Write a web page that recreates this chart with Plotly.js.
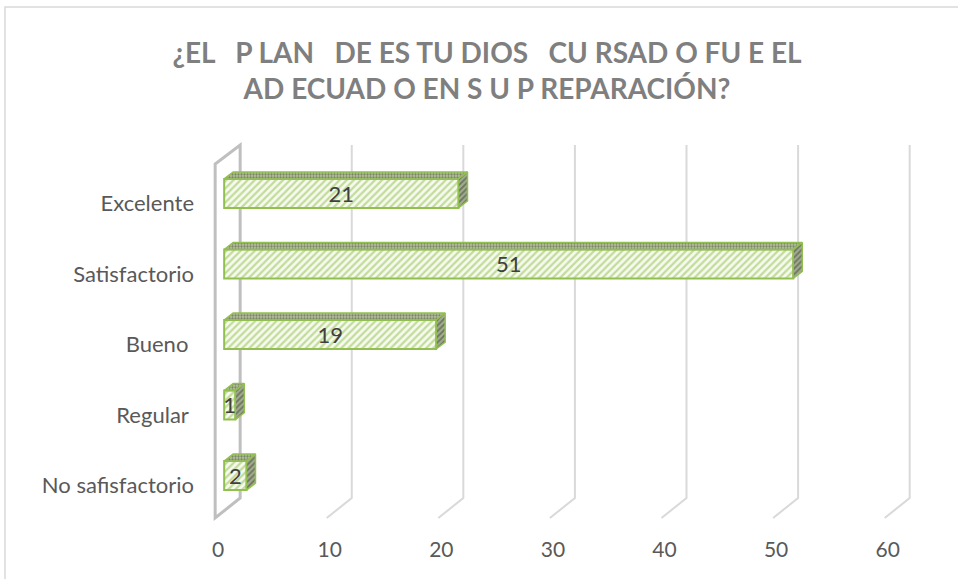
<!DOCTYPE html>
<html>
<head>
<meta charset="utf-8">
<script src="https://cdn.plot.ly/plotly-3.0.1.min.js"></script>
<style>
html,body{margin:0;padding:0;background:#fff;}
#chart{width:958px;height:579px;}
</style>
</head>
<body>
<div id="chart"></div>
<script>
// ---- data ----
const categories = ['Excelente', 'Satisfactorio', 'Bueno ', 'Regular ', 'No safisfactorio'];
const values = [21, 51, 19, 1, 2];
const tickValues = [0, 10, 20, 30, 40, 50, 60];
const tickLabels = ['0', '10', '20', '30', '40', '50', '60'];
const titleText = '¿EL   P LAN   DE ES TU DIOS   CU RSAD O FU E EL<br>AD ECUAD O EN S U P REPARACIÓN?';

// ---- layout geometry ----
const W = 958, H = 579;
const M = {l: 213, r: 42, t: 137, b: 54};
const xRange = [-1, 62];
const yRange = [-0.7, 4.8];
const plotW = W - M.l - M.r, plotH = H - M.t - M.b;
const pxX = plotW / (xRange[1] - xRange[0]);
const pxY = plotH / (yRange[1] - yRange[0]);
const dx = p => p / pxX;               // pixel offset -> x units
const yAt = py => yRange[1] - (py - M.t) / pxY; // page pixel row -> y units

const yPos = categories.map((c, i) => categories.length - 1 - i);
const barW = 29 / pxY;
const depthX = dx(9), depthY = 7 / pxY;

// gridlines & wall (3D look) as shapes below traces
const backDX = dx(16), frontDX = dx(-9);
const yTop = yAt(145), yBackBot = yAt(498), yFront = yAt(518), yWallFrontTop = yAt(164);
const shapes = [];
tickValues.forEach(t => {
  if (t === 0) return;
  shapes.push({
    type: 'path', layer: 'below', xref: 'x', yref: 'y',
    path: `M ${t + backDX} ${yTop} L ${t + backDX} ${yBackBot} L ${t + frontDX} ${yFront}`,
    line: {color: '#d9d9d9', width: 2}
  });
});
shapes.push({
  type: 'path', layer: 'below', xref: 'x', yref: 'y',
  path: `M ${frontDX} ${yFront} L ${frontDX} ${yWallFrontTop} L ${backDX} ${yTop} L ${backDX} ${yBackBot} Z`,
  line: {color: '#bfbfbf', width: 3}
});
// outer chart frame
shapes.push({
  type: 'rect', layer: 'below', xref: 'paper', yref: 'paper',
  x0: (5 - M.l) / plotW, x1: (W + 20 - M.l) / plotW,
  y0: -(H + 20 - M.t - plotH) / plotH, y1: (M.t - 7 + plotH) / plotH,
  line: {color: '#d9d9d9', width: 1.5}
});

const traces = [];
// front faces
traces.push({
  type: 'bar', orientation: 'h', x: values, y: yPos, width: barW,
  marker: {
    color: '#f3f8ea',
    pattern: {shape: '/', fgcolor: '#c2dc9a', bgcolor: '#f6faef', size: 5, solidity: 0.45},
    line: {color: '#92c050', width: 2}
  },
  hoverinfo: 'skip', showlegend: false
});
// top and side faces
values.forEach((v, i) => {
  const y1 = yPos[i] + barW / 2;
  traces.push({
    type: 'scatter', mode: 'lines', fill: 'toself',
    x: [0, v, v + depthX, depthX, 0],
    y: [y1, y1, y1 + depthY, y1 + depthY, y1],
    fillcolor: '#aeb896',
    fillpattern: {shape: '.', fgcolor: '#7a8664', bgcolor: '#b6c09f', size: 3, solidity: 0.45},
    line: {color: '#92c050', width: 1.5},
    hoverinfo: 'skip', showlegend: false
  });
  const y0 = yPos[i] - barW / 2;
  traces.push({
    type: 'scatter', mode: 'lines', fill: 'toself',
    x: [v, v, v + depthX, v + depthX, v],
    y: [y0, y1, y1 + depthY, y0 + depthY, y0],
    fillcolor: '#8d977c',
    fillpattern: {shape: '/', fgcolor: '#6a7459', bgcolor: '#a2ab91', size: 4, solidity: 0.45},
    line: {color: '#92c050', width: 1.5},
    hoverinfo: 'skip', showlegend: false
  });
});
// value labels
traces.push({
  type: 'scatter', mode: 'text',
  x: values.map(v => v / 2), y: yPos.map(y => y - 0.04),
  text: values.map(String),
  textfont: {family: 'Lato, sans-serif', size: 22, color: '#404040'},
  cliponaxis: false, hoverinfo: 'skip', showlegend: false
});

const layout = {
  width: W, height: H,
  margin: M,
  paper_bgcolor: '#ffffff', plot_bgcolor: 'rgba(0,0,0,0)',
  showlegend: false,
  title: {
    text: titleText,
    xref: 'container', yref: 'container',
    x: 487 / W, xanchor: 'center',
    y: 1 - 63 / H, yanchor: 'top',
    font: {family: 'Lato, sans-serif', size: 28, color: '#7f7f7f', weight: 'bold'}
  },
  xaxis: {
    range: xRange, tickvals: tickValues, ticktext: tickLabels,
    showgrid: false, zeroline: false, showline: false, ticks: '',
    ticklabelshift: -6, ticklabelstandoff: 10,
    tickfont: {family: 'Lato, sans-serif', size: 21, color: '#595959'},
    fixedrange: true
  },
  yaxis: {
    range: yRange, tickvals: yPos, ticktext: categories,
    showgrid: false, zeroline: false, showline: false, ticks: '',
    ticklabelshift: 10, ticklabelstandoff: 18,
    tickfont: {family: 'Lato, sans-serif', size: 22, color: '#595959'},
    fixedrange: true
  },
  shapes: shapes
};

Plotly.newPlot('chart', traces, layout, {displayModeBar: false, staticPlot: true});
</script>
</body>
</html>
